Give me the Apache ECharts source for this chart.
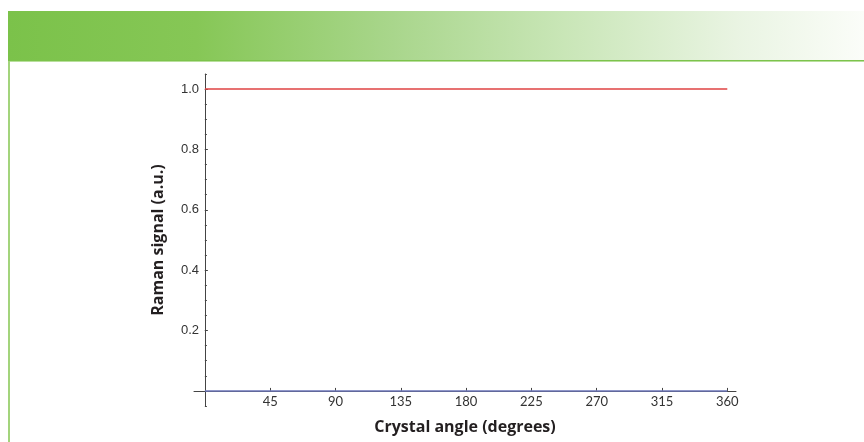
<!DOCTYPE html>
<html>
<head>
<meta charset="utf-8">
<script src="https://cdn.jsdelivr.net/npm/echarts@6/dist/echarts.min.js"></script>
<style>
html,body{margin:0;padding:0;background:#fff;}
#chart{width:864px;height:442px;}
</style>
</head>
<body>
<div id="chart"></div>
<script>
// Data
var angles = [0, 45, 90, 135, 180, 225, 270, 315, 360];
var parallelSignal = [1.0, 1.0, 1.0, 1.0, 1.0, 1.0, 1.0, 1.0, 1.0];
var perpendicularSignal = [0, 0, 0, 0, 0, 0, 0, 0, 0];
var xTickLabels = [45, 90, 135, 180, 225, 270, 315, 360];
var yTickLabels = [0.2, 0.4, 0.6, 0.8, 1.0];
var yMinorTicks = [-0.05, 0.05, 0.1, 0.15, 0.2, 0.25, 0.3, 0.35, 0.4, 0.45, 0.5, 0.55, 0.6, 0.65, 0.7, 0.75, 0.8, 0.85, 0.9, 0.95, 1.0, 1.05];

function pairs(xs, ys) { return xs.map(function (x, i) { return [x, ys[i]]; }); }

var gridLeft = 194, gridRight = 128, W = 864;
var xMin = -7.5, xMax = 366;
var zeroOffset = (0 - xMin) * (W - gridLeft - gridRight) / (xMax - xMin);

var chart = echarts.init(document.getElementById('chart'), null, {renderer: 'canvas'});
var axisColor = '#444';
var option = {
  animation: false,
  graphic: [
    {
      type: 'rect', left: 8, top: 11, z: -10,
      shape: {width: 856, height: 50},
      style: {
        fill: new echarts.graphic.LinearGradient(0, 0, 1, 0, [
          {offset: 0, color: '#7bc24a'},
          {offset: 0.22, color: '#86c756'},
          {offset: 0.45, color: '#a9d68c'},
          {offset: 0.65, color: '#c9e6b7'},
          {offset: 0.85, color: '#e9f4e2'},
          {offset: 1, color: '#fbfdf9'}
        ])
      }
    },
    {type: 'rect', left: 8, top: 60, z: -9, shape: {width: 856, height: 1.5}, style: {fill: '#7cc34c'}},
    {type: 'rect', left: 8, top: 61, z: -9, shape: {width: 856, height: 1}, style: {fill: '#b8df9c'}},
    {type: 'rect', left: 8, top: 61, z: -9, shape: {width: 2, height: 381}, style: {fill: '#a3d47c'}}
  ],
  grid: {left: gridLeft, right: gridRight, top: 74, bottom: 36, containLabel: false, outerBoundsMode: 'none'},
  xAxis: {
    type: 'value', min: xMin, max: xMax,
    name: 'Crystal angle (degrees)', nameLocation: 'middle', nameGap: 13,
    nameTextStyle: {fontFamily: 'Open Sans', fontWeight: 'bold', fontSize: 16, color: '#231f20'},
    axisLine: {show: true, onZero: true, lineStyle: {color: axisColor, width: 1}},
    axisTick: {show: true, inside: true, length: 3, customValues: xTickLabels, lineStyle: {color: axisColor}},
    axisLabel: {show: true, customValues: xTickLabels, fontFamily: 'Lato', fontSize: 13, color: '#333', margin: -11},
    splitLine: {show: false}
  },
  yAxis: [
    {
      type: 'value', min: -0.05, max: 1.05, position: 'left',
      name: 'Raman signal (a.u.)', nameLocation: 'middle', nameGap: 28, nameRotate: 90,
      nameTextStyle: {fontFamily: 'Open Sans', fontWeight: 'bold', fontSize: 16, color: '#231f20'},
      axisLine: {show: true, onZero: true, lineStyle: {color: axisColor, width: 1}},
      axisTick: {show: true, inside: true, length: 3, customValues: yTickLabels, lineStyle: {color: axisColor}},
      axisLabel: {show: true, customValues: yTickLabels, fontFamily: 'Liberation Sans', fontSize: 13, color: '#333', margin: -5,
        formatter: function (v) { return v.toFixed(1); }},
      splitLine: {show: false}
    },
    {
      type: 'value', min: -0.05, max: 1.05, position: 'left', offset: -zeroOffset,
      axisLine: {show: false, onZero: false},
      axisTick: {show: true, inside: true, length: 2, customValues: yMinorTicks, lineStyle: {color: axisColor}},
      axisLabel: {show: false},
      splitLine: {show: false}
    }
  ],
  series: [
    {
      type: 'line', name: 'parallel', data: pairs(angles, parallelSignal),
      showSymbol: false, symbol: 'none', lineStyle: {color: '#e04343', width: 1.5}, z: 3
    },
    {
      type: 'line', name: 'perpendicular', data: pairs(angles, perpendicularSignal),
      showSymbol: false, symbol: 'none', lineStyle: {color: '#6b74b8', width: 1.5}, z: 3
    }
  ]
};
chart.setOption(option);
</script>
</body>
</html>
